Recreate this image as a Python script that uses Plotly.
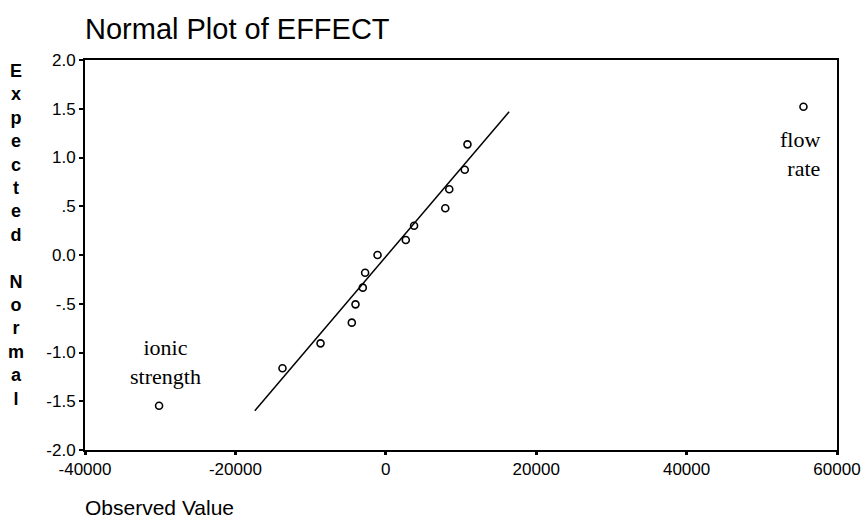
import plotly.graph_objects as go

# Observed effects and expected normal values
observed = [-30150, -13740, -8680, -4520, -4030, -3060, -2750, -1100,
            2660, 3760, 7910, 8440, 10500, 10860, 55540]
expected = [-1.546, -1.162, -0.906, -0.694, -0.506, -0.335, -0.182, 0.0,
            0.154, 0.30, 0.48, 0.674, 0.875, 1.135, 1.521]

# Reference line end points
line_x = [-17420, 16400]
line_y = [-1.597, 1.47]

x_ticks = [-40000, -20000, 0, 20000, 40000, 60000]
x_ticktext = ["-40000", "-20000", "0", "20000", "40000", "60000"]
y_ticks = [2.0, 1.5, 1.0, 0.5, 0.0, -0.5, -1.0, -1.5, -2.0]
y_ticktext = ["2.0", "1.5", "1.0", ".5", "0.0", "-.5", "-1.0", "-1.5", "-2.0"]

labels = ["ionic<br>strength", "flow<br>rate"]
label_x = [-29260, 57980]
label_y = [-1.096, 1.036]
label_anchor = ["center", "right"]

title_text = "Normal Plot of EFFECT"
x_title = "Observed Value"
y_title = "Expected Normal"

sans = "Liberation Sans, Arial, sans-serif"
serif = "Liberation Serif, Times New Roman, serif"

fig = go.Figure()
fig.add_trace(go.Scatter(x=line_x, y=line_y, mode="lines",
                         line=dict(color="black", width=1.5),
                         hoverinfo="skip", showlegend=False))
fig.add_trace(go.Scatter(x=observed, y=expected, mode="markers",
                         marker=dict(symbol="circle-open", size=7,
                                     color="black", line=dict(width=1.6)),
                         showlegend=False))

annotations = []
for t, lx, ly, anc in zip(labels, label_x, label_y, label_anchor):
    annotations.append(dict(x=lx, y=ly, xref="x", yref="y", text=t,
                            showarrow=False, xanchor=anc, yanchor="middle",
                            align=anc, font=dict(family=serif, size=22, color="black")))

# vertical stacked y-axis title
words = y_title.split(" ")
stack = "<br> <br>".join("<br>".join(list(w)) for w in words)
annotations.append(dict(x=-0.0918, y=0.551, xref="paper", yref="paper",
                        text="<b>" + stack + "</b>", showarrow=False,
                        xanchor="center", yanchor="middle", align="center",
                        font=dict(family=sans, size=18, color="black")))
annotations.append(dict(x=-0.003, y=-0.1487, xref="paper", yref="paper",
                        text=x_title, showarrow=False,
                        xanchor="left", yanchor="middle",
                        font=dict(family=sans, size=21, color="black")))

fig.update_layout(
    width=863, height=523,
    margin=dict(l=85, r=26, t=60, b=73),
    paper_bgcolor="white", plot_bgcolor="white",
    title=dict(text=title_text, x=85/863, xref="container", xanchor="left",
               y=1 - 29/523, yref="container", yanchor="middle",
               font=dict(family=sans, size=29, color="black")),
    xaxis=dict(range=[-40000, 60000], tickvals=x_ticks, ticktext=x_ticktext,
               automargin=False,
               showgrid=False, zeroline=False, showline=True, linecolor="black",
               linewidth=2, mirror=True, ticks="outside", ticklen=3, tickwidth=3,
               tickcolor="black",
               tickfont=dict(family=sans, size=17, color="black")),
    yaxis=dict(range=[-2.0, 2.0], tickvals=y_ticks, ticktext=y_ticktext,
               automargin=False,
               showgrid=False, zeroline=False, showline=True, linecolor="black",
               linewidth=2, mirror=True, ticks="outside", ticklen=4, tickwidth=2,
               tickcolor="black",
               tickfont=dict(family=sans, size=17, color="black")),
    annotations=annotations,
)

fig.write_html("out.html")
